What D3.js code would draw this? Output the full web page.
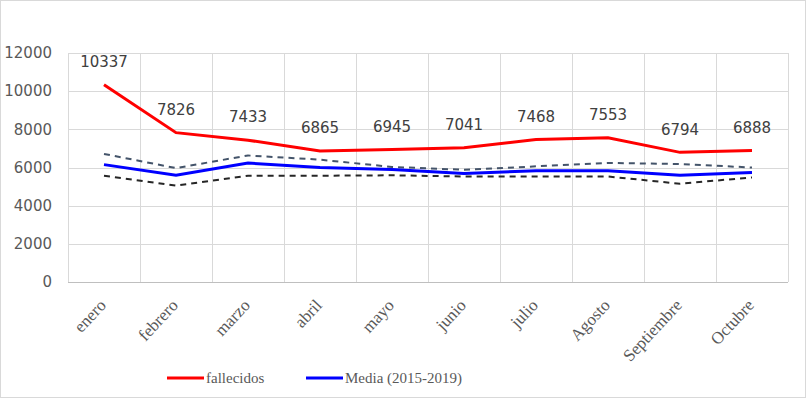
<!DOCTYPE html>
<html>
<head>
<meta charset="utf-8">
<script src="https://cdn.jsdelivr.net/npm/d3@7"></script>
<style>
  body { margin: 0; background: #fff; }
</style>
</head>
<body>
<script>
const width = 806;
const height = 399;

// datos
const meses = ["enero", "febrero", "marzo", "abril", "mayo", "junio", "julio", "Agosto", "Septiembre", "Octubre"];
const fallecidos = [10337, 7826, 7433, 6865, 6945, 7041, 7468, 7553, 6794, 6888];
const media = [6150, 5590, 6230, 6000, 5890, 5680, 5830, 5830, 5590, 5740];
const mediaAlta = [6710, 5970, 6630, 6410, 6030, 5880, 6060, 6240, 6180, 6000];
const mediaBaja = [5570, 5050, 5570, 5570, 5590, 5530, 5530, 5530, 5150, 5480];
const yTicks = [0, 2000, 4000, 6000, 8000, 10000, 12000];

const margin = { top: 53, right: 18, bottom: 117, left: 68 };

let svg = d3.select("body").append("svg")
    .attr("width", width)
    .attr("height", height);

// borde exterior
svg.append("rect")
    .attr("x", 0.5).attr("y", 0.5)
    .attr("width", width - 1).attr("height", height - 2)
    .attr("fill", "none")
    .attr("stroke", "#d9d9d9");

let g = svg.append("g")
    .attr("transform", `translate(${margin.left},${margin.top})`);

const w = width - margin.left - margin.right;
const h = height - margin.top - margin.bottom;

let x = d3.scaleBand().domain(meses).range([0, w]);
let y = d3.scaleLinear().domain([0, 12000]).range([h, 0]);
const cx = d => x(d) + x.bandwidth() / 2;

// rejilla horizontal
g.selectAll(".hgrid")
    .data(yTicks)
    .enter()
    .append("line")
    .attr("x1", 0).attr("x2", w)
    .attr("y1", d => Math.round(y(d)) + 0.5)
    .attr("y2", d => Math.round(y(d)) + 0.5)
    .attr("stroke", d => d === 0 ? "#bfbfbf" : "#d9d9d9");

// rejilla vertical
g.selectAll(".vgrid")
    .data(meses.concat(["_fin"]))
    .enter()
    .append("line")
    .attr("x1", (d, i) => Math.round(i * x.bandwidth()) + 0.5)
    .attr("x2", (d, i) => Math.round(i * x.bandwidth()) + 0.5)
    .attr("y1", 0).attr("y2", h)
    .attr("stroke", "#d9d9d9");

// etiquetas eje y
g.selectAll(".ylab")
    .data(yTicks)
    .enter()
    .append("text")
    .attr("x", -16)
    .attr("y", d => y(d))
    .attr("dy", "0.35em")
    .attr("text-anchor", "end")
    .attr("font-family", "DejaVu Sans")
    .attr("font-size", "15px")
    .attr("fill", "#595959")
    .text(d => d);

// etiquetas eje x
g.selectAll(".xlab")
    .data(meses)
    .enter()
    .append("text")
    .attr("transform", d => `translate(${cx(d) + 3},${h + 24}) rotate(-47)`)
    .attr("text-anchor", "end")
    .attr("font-family", "Liberation Serif")
    .attr("font-size", "17px")
    .attr("fill", "#595959")
    .text(d => d);

let line = d3.line()
    .x((d, i) => cx(meses[i]))
    .y(d => y(d));

g.append("path")
    .attr("d", line(mediaBaja))
    .attr("fill", "none")
    .attr("stroke", "#262626")
    .attr("stroke-width", 2)
    .attr("stroke-dasharray", "6,5");

g.append("path")
    .attr("d", line(mediaAlta))
    .attr("fill", "none")
    .attr("stroke", "#44546a")
    .attr("stroke-width", 2)
    .attr("stroke-dasharray", "6,5");

g.append("path")
    .attr("d", line(media))
    .attr("fill", "none")
    .attr("stroke", "#0000ff")
    .attr("stroke-width", 3);

g.append("path")
    .attr("d", line(fallecidos))
    .attr("fill", "none")
    .attr("stroke", "#ff0000")
    .attr("stroke-width", 3);

// etiquetas de datos
g.selectAll(".dlab")
    .data(fallecidos)
    .enter()
    .append("text")
    .attr("x", (d, i) => cx(meses[i]))
    .attr("y", d => y(d) - 23)
    .attr("dy", "0.35em")
    .attr("text-anchor", "middle")
    .attr("font-family", "DejaVu Sans")
    .attr("font-size", "15px")
    .attr("fill", "#404040")
    .text(d => d);

// leyenda
const leyenda = [
    { nombre: "fallecidos", color: "#ff0000", x: 167 },
    { nombre: "Media (2015-2019)", color: "#0000ff", x: 306 }
];

let lg = svg.selectAll(".leg")
    .data(leyenda)
    .enter()
    .append("g")
    .attr("transform", d => `translate(${d.x},378)`);

lg.append("line")
    .attr("x1", 0).attr("x2", 37)
    .attr("stroke", d => d.color)
    .attr("stroke-width", 3);

lg.append("text")
    .attr("x", 39)
    .attr("dy", "0.35em")
    .attr("font-family", "Liberation Serif")
    .attr("font-size", "15px")
    .attr("fill", "#595959")
    .text(d => d.nombre);
</script>
</body>
</html>
